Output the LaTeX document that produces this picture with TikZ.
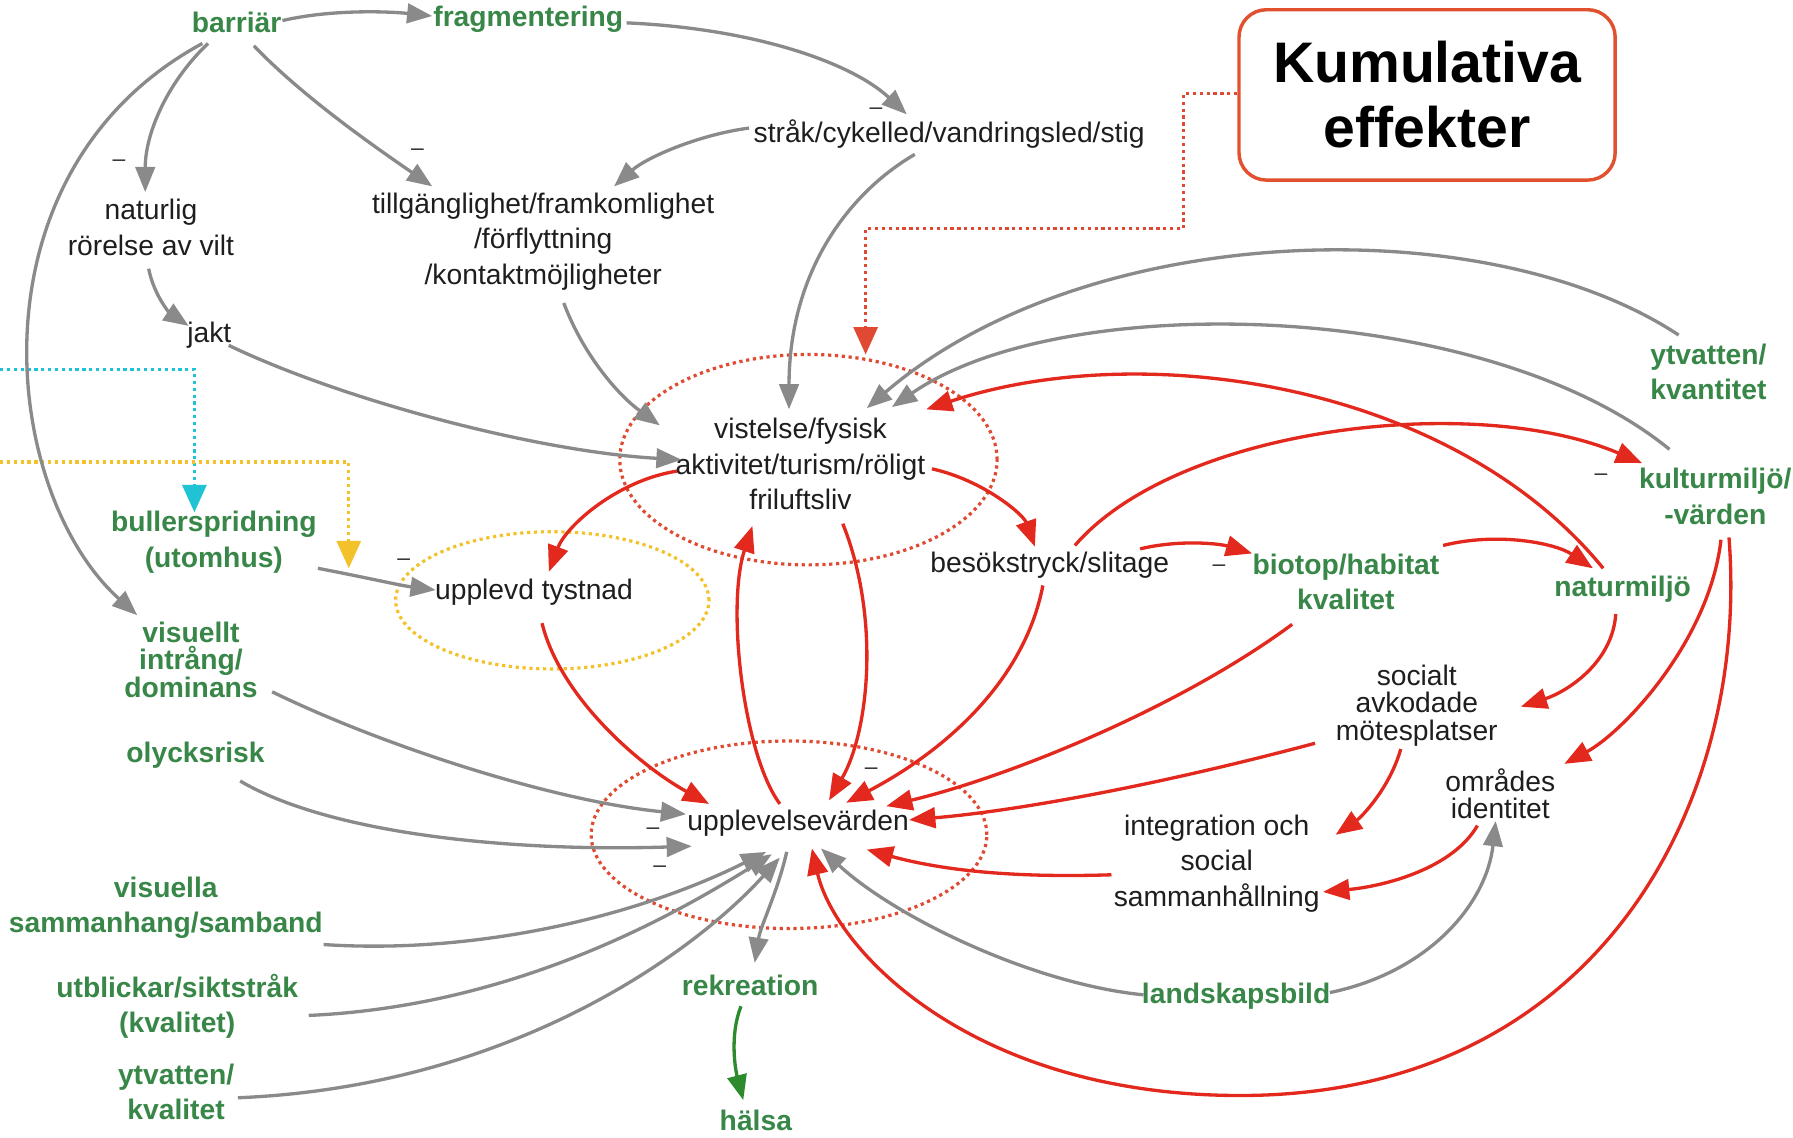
\documentclass[tikz,border=0pt]{standalone}
\usepackage{fontspec}
\setmainfont{Liberation Sans}
\usetikzlibrary{arrows.meta,shapes.geometric}
\definecolor{grn}{HTML}{388748}
\definecolor{txt}{HTML}{1E1E1E}
\definecolor{garrc}{HTML}{8A8A8A}
\definecolor{rarrc}{HTML}{E3281E}
\definecolor{rdotc}{HTML}{E04A32}
\definecolor{kumc}{HTML}{E2512F}
\definecolor{cyanc}{HTML}{1FC3D3}
\definecolor{yelc}{HTML}{F3C12A}
\definecolor{darkg}{HTML}{2D8A2D}
\definecolor{minusc}{HTML}{333333}
\begin{document}
\begin{tikzpicture}[x=1pt,y=-1pt,
  gt/.style={font=\fontsize{24.7}{31}\selectfont\bfseries, text=grn, align=center, inner sep=2pt},
  gtt/.style={font=\fontsize{24.7}{24}\selectfont\bfseries, text=grn, align=center, inner sep=2pt},
  bt/.style={font=\fontsize{24.7}{31}\selectfont, text=txt, align=center, inner sep=2pt},
  btt/.style={font=\fontsize{24.7}{24}\selectfont, text=txt, align=center, inner sep=2pt},
  minus/.style={font=\fontsize{20}{20}\selectfont, text=minusc, inner sep=0pt},
  garr/.style={draw=garrc, line width=2.9pt, -{Triangle[length=22pt,width=17pt]}},
  rarr/.style={draw=rarrc, line width=2.9pt, -{Triangle[length=23pt,width=18pt]}},
  grarr/.style={draw=darkg, line width=2.9pt, -{Triangle[length=22pt,width=17pt]}},
  dotline/.style={line width=2.8pt, dash pattern=on 2.8pt off 3.2pt},
  ellnode/.style={ellipse, draw=rdotc, dotline, inner sep=0pt},
  kumbox/.style={draw=kumc, line width=3pt, rounded corners=24pt, minimum width=329pt, minimum height=149pt, align=center, font=\fontsize{50}{57}\selectfont\bfseries, text=black}
]
\useasboundingbox (0,0) rectangle (1568,995);
\fill[white] (0,0) rectangle (1568,995);

% ellipses
\node[ellnode, minimum width=330pt, minimum height=184pt] (vistell) at (707,402) {};
\node[ellnode, minimum width=346pt, minimum height=164pt] (uppell) at (690,730) {};
\node[ellipse, draw=yelc, dotline, inner sep=0pt, minimum width=274pt, minimum height=120pt] (tystell) at (483,525) {};

% box
\node[kumbox] (kum) at (1248,83) {Kumulativa\\effekter};

% green nodes
\node[gt] (barr) at (207,20) {barriär};
\node[gt] (frag) at (462,17) {fragmentering};
\node[gt] (bull) at (187,474) {bullerspridning\\(utomhus)};
\node[gtt] (visint) at (167,577) {visuellt\\intrång/\\dominans};
\node[gt] (olyck) at (171,660) {olycksrisk};
\node[gt] (visam) at (145,794) {visuella\\sammanhang/samband};
\node[gt] (utbl) at (155,880) {utblickar/siktstråk\\(kvalitet)};
\node[gt] (ytkval) at (154,955) {ytvatten/\\kvalitet};
\node[gt] (rekr) at (656,862) {rekreation};
\node[gt] (hals) at (661,980) {hälsa};
\node[gt] (land) at (1081,871) {landskapsbild};
\node[gt] (biotop) at (1177,509) {biotop/habitat\\kvalitet};
\node[gt] (natm) at (1419,515) {naturmiljö};
\node[gt] (kult) at (1500,434) {kulturmiljö/\\-värden};
\node[gt] (ytkvant) at (1494,325) {ytvatten/\\kvantitet};

% black nodes
\node[bt] (strak) at (830,117) {stråk/cykelled/vandringsled/stig};
\node[bt] (nat) at (132,199) {naturlig\\rörelse av vilt};
\node[bt] (till) at (475,211) {tillgänglighet/framkomlighet\\/förflyttning\\/kontaktmöjligheter};
\node[bt] (jakt) at (183,293) {jakt};
\node[bt] (vist) at (700,406) {vistelse/fysisk\\aktivitet/turism/röligt\\friluftsliv};
\node[bt] (tyst) at (467,518) {upplevd tystnad};
\node[bt] (upp) at (698,720) {upplevelsevärden};
\node[bt] (besok) at (918,494) {besökstryck/slitage};
\node[btt] (soc) at (1239,617) {socialt\\avkodade\\mötesplatser};
\node[btt] (omr) at (1312,694) {områdes\\identitet};
\node[bt] (integ) at (1064,755) {integration och\\social\\sammanhållning};

% minus signs
\node[minus] (m1) at (104,143) {–};
\node[minus] (m2) at (365,133) {–};
\node[minus] (m3) at (766,97) {–};
\node[minus] (m4) at (353,492) {–};
\node[minus] (m5) at (571,727) {–};
\node[minus] (m6) at (577,760) {–};
\node[minus] (m7) at (762,674) {–};
\node[minus] (m8) at (1066,497) {–};
\node[minus] (m9) at (1400,417) {–};

% dotted connectors
\coordinate (cy0) at (0,323);
\coordinate (ye0) at (0,404);
\coordinate (kbend) at (1035,200);
\draw[draw=rdotc, dotline, -{Triangle[length=24pt,width=21pt,fill=rdotc]}] ([shift={(0,-1)}]kum.west) -| (kbend) -| ([shift={(50,-92)}]vistell.center);
\draw[draw=cyanc, dotline, -{Triangle[length=24pt,width=21pt,fill=cyanc]}] (cy0) -| ([shift={(-17,-26)}]bull.center);
\draw[draw=yelc, dotline, -{Triangle[length=24pt,width=21pt,fill=yelc]}] (ye0) -| ([shift={(-162,-21)}]tyst.center);

% gray connectors
\draw[garr] ([shift={(40,-2)}]barr.center) .. controls (290,8) and (340,10) .. ([shift={(-84,-3)}]frag.center);
\draw[garr] ([shift={(86,3)}]frag.center) .. controls (660,25) and (745,55) .. ([shift={(-37,-17)}]strak.center);
\draw[garr] ([shift={(-25,18)}]barr.center) .. controls (148,70) and (127,115) .. ([shift={(-5,-31)}]nat.center);
\draw[garr] ([shift={(15,20)}]barr.center) .. controls (265,85) and (330,130) .. ([shift={(-97,-48)}]till.center);
\draw[garr] ([shift={(-30,18)}]barr.center) .. controls (-30,150) and (0,430) .. ([shift={(-47,-39)}]visint.center);
\draw[garr] ([shift={(-175,-5)}]strak.center) .. controls (610,118) and (565,138) .. ([shift={(62,-48)}]till.center);
\draw[garr] ([shift={(-30,18)}]strak.center) .. controls (740,170) and (690,240) .. ([shift={(-10,-48)}]vist.center);
\draw[garr] ([shift={(-2,36)}]nat.center) .. controls (135,260) and (150,275) .. ([shift={(-18,-8)}]jakt.center);
\draw[garr] ([shift={(17,9)}]jakt.center) .. controls (300,350) and (470,395) .. ([shift={(-104,-4)}]vist.center);
\draw[garr] ([shift={(18,54)}]till.center) .. controls (510,310) and (540,345) .. ([shift={(-123,-34)}]vist.center);
\draw[garr] ([shift={(-26,-32)}]ytkvant.center) .. controls (1300,182) and (950,192) .. ([shift={(58,-49)}]vist.center);
\draw[garr] ([shift={(-40,-41)}]kult.center) .. controls (1300,262) and (930,252) .. ([shift={(80,-50)}]vist.center);
\draw[garr] ([shift={(91,23)}]bull.center) .. controls (320,505) and (350,512) .. ([shift={(-86,-2)}]tyst.center);
\draw[garr] ([shift={(71,28)}]visint.center) .. controls (330,650) and (480,700) .. ([shift={(-98,-8)}]upp.center);
\draw[garr] ([shift={(39,23)}]olyck.center) .. controls (290,730) and (450,745) .. ([shift={(-93,20)}]upp.center);
\draw[garr] ([shift={(138,32)}]visam.center) .. controls (420,835) and (560,800) .. ([shift={(-28,25)}]upp.center);
\draw[garr] ([shift={(115,8)}]utbl.center) .. controls (450,880) and (590,800) .. ([shift={(-23,27)}]upp.center);
\draw[garr] ([shift={(54,5)}]ytkval.center) .. controls (450,950) and (610,830) .. ([shift={(-16,30)}]upp.center);
\draw[garr] ([shift={(-10,25)}]upp.center) .. controls (680,780) and (665,810) .. ([shift={(4,-20)}]rekr.center);
\draw[garr] ([shift={(-81,-1)}]land.center) .. controls (900,860) and (780,800) .. ([shift={(20,22)}]upp.center);
\draw[garr] ([shift={(82,-3)}]land.center) .. controls (1250,850) and (1300,790) .. ([shift={(-4,24)}]omr.center);

% green connector
\draw[grarr] ([shift={(-8,18)}]rekr.center) .. controls (638,905) and (643,935) .. ([shift={(-11,-18)}]hals.center);

% red connectors
\draw[rarr] ([shift={(-108,6)}]vist.center) .. controls (540,420) and (495,460) .. ([shift={(13,-18)}]tyst.center);
\draw[rarr] ([shift={(115,4)}]vist.center) .. controls (860,420) and (895,450) .. ([shift={(-13,-16)}]besok.center);
\draw[rarr] ([shift={(7,27)}]tyst.center) .. controls (490,610) and (560,670) .. ([shift={(-78,-17)}]upp.center);
\draw[rarr] ([shift={(-16,-17)}]upp.center) .. controls (650,660) and (635,530) .. ([shift={(-42,54)}]vist.center);
\draw[rarr] ([shift={(37,52)}]vist.center) .. controls (770,540) and (760,640) .. ([shift={(27,-20)}]upp.center);
\draw[rarr] ([shift={(-6,18)}]besok.center) .. controls (895,600) and (820,660) .. ([shift={(42,-18)}]upp.center);
\draw[rarr] ([shift={(-47,37)}]biotop.center) .. controls (1030,620) and (880,680) .. ([shift={(77,-15)}]upp.center);
\draw[rarr] ([shift={(-89,33)}]soc.center) .. controls (1000,690) and (880,710) .. ([shift={(97,-3)}]upp.center);
\draw[rarr] ([shift={(-92,10)}]integ.center) .. controls (880,768) and (820,760) .. ([shift={(60,23)}]upp.center);
\draw[rarr] ([shift={(79,-14)}]besok.center) .. controls (1030,472) and (1065,475) .. ([shift={(-82,-25)}]biotop.center);
\draw[rarr] ([shift={(85,-32)}]biotop.center) .. controls (1310,465) and (1360,475) .. ([shift={(-26,-18)}]natm.center);
\draw[rarr] ([shift={(22,-17)}]besok.center) .. controls (1030,373) and (1290,343) .. ([shift={(-64,-29)}]kult.center);
\draw[rarr] ([shift={(-17,-18)}]natm.center) .. controls (1270,335) and (1000,295) .. ([shift={(110,-48)}]vist.center);
\draw[rarr] ([shift={(-6,22)}]natm.center) .. controls (1410,580) and (1370,605) .. ([shift={(91,1)}]soc.center);
\draw[rarr] ([shift={(5,38)}]kult.center) .. controls (1495,560) and (1420,640) .. ([shift={(56,-26)}]omr.center);
\draw[rarr] ([shift={(12,36)}]kult.center) .. controls (1530,700) and (1400,955) .. (1090,958) .. controls (850,960) and (730,830) .. ([shift={(12,22)}]upp.center);
\draw[rarr] ([shift={(-14,38)}]soc.center) .. controls (1215,690) and (1190,715) .. ([shift={(104,-25)}]integ.center);
\draw[rarr] ([shift={(-20,28)}]omr.center) .. controls (1270,760) and (1210,775) .. ([shift={(93,25)}]integ.center);
\end{tikzpicture}
\end{document}
